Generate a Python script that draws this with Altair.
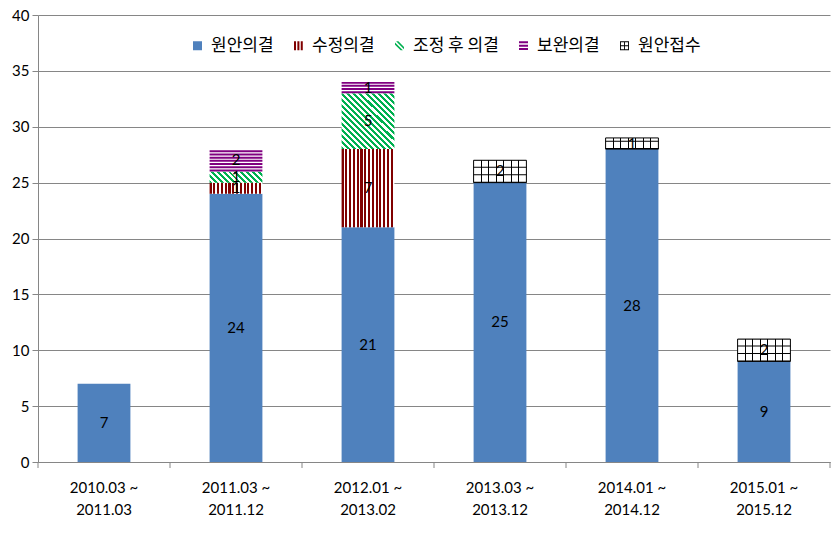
import altair as alt
import pandas as pd

categories = ["2010.03 ~ 2011.03", "2011.03 ~ 2011.12", "2012.01 ~ 2013.02",
              "2013.03 ~ 2013.12", "2014.01 ~ 2014.12", "2015.01 ~ 2015.12"]
series_names = ["원안의결", "수정의결", "조정 후 의결", "보완의결", "원안접수"]
original = [7, 24, 21, 25, 28, 9]
amended = [0, 1, 7, 0, 0, 0]
adjusted = [0, 1, 5, 0, 0, 0]
supplemented = [0, 2, 1, 0, 0, 0]
received = [0, 0, 0, 2, 1, 2]
y_ticks = [0, 5, 10, 15, 20, 25, 30, 35, 40]

rows = []
for i, c in enumerate(categories):
    base = 0
    for s, vals in zip(series_names, [original, amended, adjusted, supplemented, received]):
        v = vals[i]
        if v > 0:
            rows.append(dict(cat=c, series=s, value=v, y0=base, y1=base + v, ymid=base + v / 2))
        base += v
df = pd.DataFrame(rows)
cat_df = pd.DataFrame({"cat": categories})

W, H = 792, 447
STEP = W / 6
BAR_W = STEP * 0.4
GRAY = "#868686"

x_scale = alt.Scale(domain=categories, paddingInner=0.6, paddingOuter=0.3)
x_enc = alt.X("cat:N", sort=categories, title=None, scale=x_scale,
              axis=alt.Axis(labelExpr="[substring(datum.label, 0, 9), substring(datum.label, 10)]",
                            labelAngle=0, labelFont="Lato", labelFontSize=15, labelColor="black",
                            labelLineHeight=22, ticks=False, domainColor=GRAY,
                            labelPadding=18, grid=False))
y_enc = alt.Y("y0:Q", title=None, scale=alt.Scale(domain=[0, 40], nice=False),
              axis=alt.Axis(values=y_ticks, labelFont="Lato", labelFontSize=15, labelColor="black",
                            tickSize=6, tickColor=GRAY, domainColor=GRAY, gridColor=GRAY,
                            labelPadding=3, grid=True))
y2_enc = alt.Y2("y1:Q")

base = alt.Chart(df).encode(x=x_enc, y=y_enc, y2=y2_enc)


def stripes(c1, c2, n, frac, **dirn):
    stops = []
    for k in range(n):
        a = k / n
        b = (k + frac) / n
        e = (k + 1) / n
        stops += [{"offset": a, "color": c1}, {"offset": b, "color": c1},
                  {"offset": b, "color": c2}, {"offset": e, "color": c2}]
    g = {"gradient": "linear", "stops": stops}
    g.update(dirn)
    return g


red_grad = stripes("#800000", "#ffffff", 14, 0.55, x1=0, y1=0, x2=1, y2=0)
green_big = stripes("#00B050", "#ffffff", 18, 0.5, x1=0, y1=1, x2=0.97, y2=-0.03)
green_small = stripes("#00B050", "#ffffff", 11, 0.5, x1=0, y1=1, x2=1.16, y2=0.754)

grid_stops = []
for k in range(1, 7):
    c = k / 7
    grid_stops += [{"offset": c - 0.011, "color": "#ffffff"}, {"offset": c - 0.011, "color": "#000000"},
                   {"offset": c + 0.011, "color": "#000000"}, {"offset": c + 0.011, "color": "#ffffff"}]
grid_grad = {"gradient": "linear", "x1": 0, "y1": 0, "x2": 1, "y2": 0,
             "stops": [{"offset": 0, "color": "#ffffff"}] + grid_stops + [{"offset": 1, "color": "#ffffff"}]}

blue = base.mark_bar(color="#4F81BD").transform_filter(alt.datum.series == "원안의결")
red = base.mark_bar(color=red_grad).transform_filter(alt.datum.series == "수정의결")
g_big = base.mark_bar(color=green_big).transform_filter(
    (alt.datum.series == "조정 후 의결") & (alt.datum.value >= 3))
g_small = base.mark_bar(color=green_small).transform_filter(
    (alt.datum.series == "조정 후 의결") & (alt.datum.value < 3))
p_bg = base.mark_bar(color="white").transform_filter(alt.datum.series == "보완의결")
p_lines = base.mark_rule(color="#800080", strokeWidth=BAR_W, strokeDash=[2, 1.2]).transform_filter(
    alt.datum.series == "보완의결")
grid_bar = base.mark_bar(color=grid_grad, stroke="black", strokeWidth=1).transform_filter(
    alt.datum.series == "원안접수")
grid_h = base.mark_rule(color="black", strokeWidth=BAR_W, strokeDash=[1, 6.4]).transform_filter(
    alt.datum.series == "원안접수")

# category-boundary tick marks (Excel style)
ticks_left = alt.Chart(cat_df).mark_rule(color=GRAY, xOffset=-STEP / 2).encode(
    x=alt.X("cat:N", sort=categories, scale=x_scale), y=alt.value(H), y2=alt.value(H + 6))
ticks_right = alt.Chart(cat_df).transform_filter(alt.datum.cat == categories[-1]).mark_rule(
    color=GRAY, xOffset=STEP / 2).encode(
    x=alt.X("cat:N", sort=categories, scale=x_scale), y=alt.value(H), y2=alt.value(H + 6))

labels = alt.Chart(df).mark_text(font="Lato", fontSize=15, color="black").encode(
    x=alt.X("cat:N", sort=categories), y=alt.Y("ymid:Q"), text=alt.Text("value:Q"))

shape_paths = [
    "M-1,-1H1V1H-1Z",
    "M-1,-1h0.45v2h-0.45Z M-0.25,-1h0.45v2h-0.45Z M0.5,-1h0.45v2h-0.45Z",
    "M-1,-0.75L0.75,1L0.25,1L-1,-0.25Z M-0.75,-1L1,0.75L1,0.25L-0.25,-1Z",
    "M-1,-1h2v0.45h-2Z M-1,-0.25h2v0.45h-2Z M-1,0.5h2v0.45h-2Z",
    "M-1,-1H1V1H-1Z M-0.8,-0.8V0.8H0.8V-0.8Z M-0.1,-1h0.2v2h-0.2Z M-1,-0.1h2v0.2h-2Z",
]
legend_colors = ["#4F81BD", "#800000", "#00B050", "#800080", "#000000"]
leg = alt.Legend(title=None, orient="none", legendX=151, legendY=22, direction="horizontal",
                 symbolSize=81, symbolOpacity=1, labelFont="Noto Sans CJK KR", labelFontSize=17,
                 labelColor="black", columnPadding=16, labelOffset=5, symbolStrokeWidth=0)
legend_layer = alt.Chart(pd.DataFrame({"series": series_names})).mark_point(
    filled=True, clip=True, size=81, strokeWidth=0, opacity=1).encode(
    x=alt.value(-60), y=alt.value(-60),
    fill=alt.Fill("series:N", sort=series_names,
                  scale=alt.Scale(domain=series_names, range=legend_colors), legend=leg),
    shape=alt.Shape("series:N", sort=series_names,
                    scale=alt.Scale(domain=series_names, range=shape_paths), legend=leg),
)

chart = alt.layer(blue, red, g_big, g_small, p_bg, p_lines, grid_bar, grid_h,
                  ticks_left, ticks_right, labels, legend_layer).properties(
    width=W, height=H,
    autosize=alt.AutoSizeParams(type="none"),
    padding={"left": 38, "top": 15, "right": 2, "bottom": 74},
).configure_view(strokeWidth=0)

chart.save("out.html", embed_options={"renderer": "svg", "actions": False})
